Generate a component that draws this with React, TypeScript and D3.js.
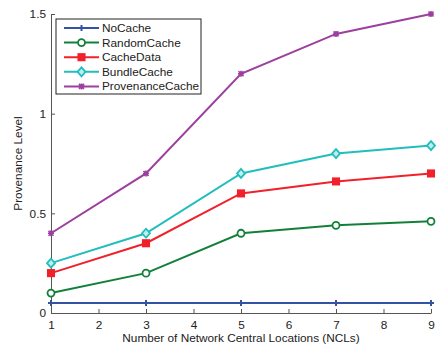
import React, { useRef, useEffect } from 'react';
import * as d3 from 'd3';

const NCLS = [1, 3, 5, 7, 9];
const NO_CACHE = [0.05, 0.05, 0.05, 0.05, 0.05];
const RANDOM_CACHE = [0.1, 0.2, 0.4, 0.44, 0.46];
const CACHE_DATA = [0.2, 0.35, 0.6, 0.66, 0.7];
const BUNDLE_CACHE = [0.25, 0.4, 0.7, 0.8, 0.84];
const PROVENANCE_CACHE = [0.4, 0.7, 1.2, 1.4, 1.5];
const X_TICKS = [1, 2, 3, 4, 5, 6, 7, 8, 9];
const Y_TICKS = [0, 0.5, 1, 1.5];

const SERIES = [
  { label: 'NoCache', values: NO_CACHE, color: '#3452a6', marker: 'plus' },
  { label: 'RandomCache', values: RANDOM_CACHE, color: '#13803a', marker: 'circle' },
  { label: 'CacheData', values: CACHE_DATA, color: '#f0212a', marker: 'square' },
  { label: 'BundleCache', values: BUNDLE_CACHE, color: '#22bdbd', marker: 'diamond' },
  { label: 'ProvenanceCache', values: PROVENANCE_CACHE, color: '#9c3f9e', marker: 'star' },
];

const FONT = 'Arial, "Liberation Sans", Helvetica, sans-serif';
const FS = '11.8px';

function drawMarker(g: any, type: string, x: number, y: number, color: string) {
  if (type === 'plus') {
    g.append('path').attr('d', `M${x - 3},${y}H${x + 3}M${x},${y - 3}V${y + 3}`)
      .attr('stroke', color).attr('stroke-width', 2).attr('fill', 'none');
  } else if (type === 'circle') {
    g.append('circle').attr('cx', x).attr('cy', y).attr('r', 3.5)
      .attr('stroke', color).attr('stroke-width', 1.8).attr('fill', 'white');
  } else if (type === 'square') {
    g.append('rect').attr('x', x - 3.3).attr('y', y - 3.3).attr('width', 6.6).attr('height', 6.6)
      .attr('stroke', color).attr('stroke-width', 1.5).attr('fill', color);
  } else if (type === 'diamond') {
    g.append('path').attr('d', `M${x},${y - 4.5}L${x + 4},${y}L${x},${y + 4.5}L${x - 4},${y}Z`)
      .attr('stroke', color).attr('stroke-width', 1.8).attr('fill', '#bfeeee');
  } else {
    g.append('path')
      .attr('d', `M${x - 2.5},${y - 2.5}L${x + 2.5},${y + 2.5}M${x - 2.5},${y + 2.5}L${x + 2.5},${y - 2.5}M${x - 3},${y}H${x + 3}M${x},${y - 3}V${y + 3}`)
      .attr('stroke', color).attr('stroke-width', 1.6).attr('fill', 'none');
  }
}

export default function App() {
  const ref = useRef<SVGSVGElement>(null);

  useEffect(() => {
    const svg = d3.select(ref.current);
    svg.selectAll('*').remove();

    const margin = { left: 51, right: 13, top: 14, bottom: 34 };
    const W = 444, H = 347;
    const width = W - margin.left - margin.right;
    const height = H - margin.top - margin.bottom;

    const x = d3.scaleLinear().domain([1, 9]).range([0, width]);
    const y = d3.scaleLinear().domain([0, 1.5]).range([height, 0]);

    svg.append('rect').attr('width', W).attr('height', H).attr('fill', 'white');

    const g = svg.append('g').attr('transform', `translate(${margin.left},${margin.top})`);

    // axes (inward ticks)
    g.append('g')
      .attr('transform', `translate(0,${height})`)
      .call(d3.axisBottom(x).tickValues(X_TICKS).tickSizeInner(-4).tickSizeOuter(0).tickPadding(8).tickFormat(d3.format('d')))
      .call(ax => ax.select('.domain').attr('stroke', '#555').attr('stroke-width', 1))
      .call(ax => ax.selectAll('.tick line').attr('stroke', '#555'))
      .call(ax => ax.selectAll('.tick text').attr('fill', '#222').attr('font-size', FS).attr('font-family', FONT));

    g.append('g')
      .call(d3.axisLeft(y).tickValues(Y_TICKS).tickSizeInner(-4).tickSizeOuter(0).tickPadding(5).tickFormat(d => `${d}`))
      .call(ax => ax.select('.domain').attr('stroke', '#555').attr('stroke-width', 1))
      .call(ax => ax.selectAll('.tick line').attr('stroke', '#555'))
      .call(ax => ax.selectAll('.tick text').attr('fill', '#222').attr('font-size', FS).attr('font-family', FONT));

    // axis labels
    g.append('text')
      .attr('x', width / 2).attr('y', height + 29)
      .attr('text-anchor', 'middle').attr('font-size', FS).attr('font-family', FONT).attr('fill', '#222')
      .text('Number of Network Central Locations (NCLs)');
    g.append('text')
      .attr('transform', 'rotate(-90)')
      .attr('x', -height / 2).attr('y', -29)
      .attr('text-anchor', 'middle').attr('font-size', FS).attr('font-family', FONT).attr('fill', '#222')
      .text('Provenance Level');

    // lines
    const line = d3.line<number>().x((_, i) => x(NCLS[i])).y(d => y(d));
    SERIES.forEach(s => {
      g.append('path').datum(s.values).attr('d', line)
        .attr('fill', 'none').attr('stroke', s.color).attr('stroke-width', 2);
      s.values.forEach((v, i) => drawMarker(g, s.marker, x(NCLS[i]), y(v), s.color));
    });

    // legend
    const lx = 5, ly = 5, rowH = 14.6;
    g.append('rect').attr('x', lx).attr('y', ly).attr('width', 145).attr('height', 75)
      .attr('fill', 'white').attr('stroke', '#222').attr('stroke-width', 1);
    SERIES.forEach((s, i) => {
      const yy = ly + 9 + i * rowH;
      g.append('line').attr('x1', lx + 8).attr('x2', lx + 43).attr('y1', yy).attr('y2', yy)
        .attr('stroke', s.color).attr('stroke-width', 2);
      drawMarker(g, s.marker, lx + 25.5, yy, s.color);
      g.append('text').attr('x', lx + 46).attr('y', yy + 4)
        .attr('font-size', FS).attr('font-family', FONT).attr('fill', '#222')
        .text(s.label);
    });
  }, []);

  return (
    <svg ref={ref} width={444} height={347}
      style={{ position: 'absolute', left: 0, top: 0, display: 'block' }} />
  );
}
